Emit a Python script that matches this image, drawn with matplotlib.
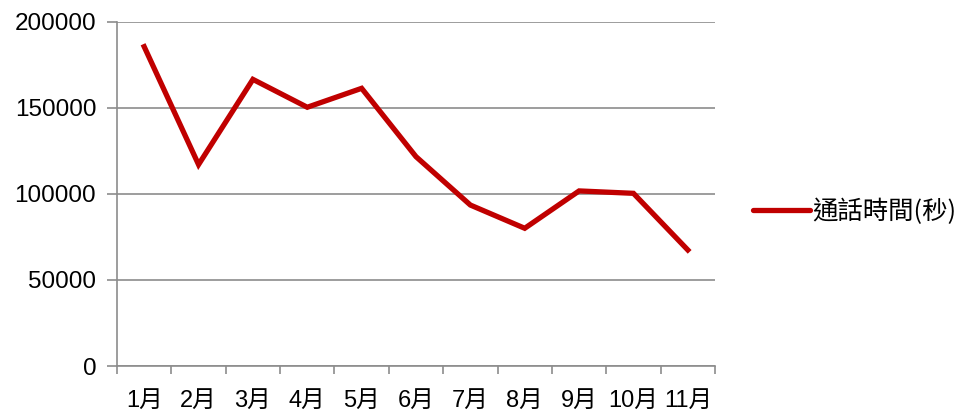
import matplotlib
matplotlib.use("Agg")
import matplotlib.pyplot as plt
from matplotlib.lines import Line2D

months = ["1月", "2月", "3月", "4月", "5月", "6月", "7月", "8月", "9月", "10月", "11月"]
call_seconds = [185500, 117000, 166500, 150300, 161300, 121600, 93500, 80000, 101700, 100300, 67400]
series_name = "通話時間(秒)"
y_ticks = [0, 50000, 100000, 150000, 200000]

plt.rcParams['font.family'] = ['Liberation Sans', 'Noto Sans CJK TC', 'DejaVu Sans']

fig = plt.figure(figsize=(9.65, 4.11), dpi=100)
ax = fig.add_axes([117/965, 1-366/411, (715-117)/965, (366-21.7)/411])

x = list(range(len(months)))
ax.plot(x, call_seconds, color="#c00000", lw=3.8, solid_joinstyle="miter", zorder=3,
        label=series_name)

ax.set_xlim(-0.5, len(months) - 0.5)
ax.set_ylim(0, 200000)
ax.set_yticks(y_ticks)
ax.set_yticklabels([str(v) for v in y_ticks], fontsize=17.5)
ax.yaxis.grid(True, color="#8c8c8c", lw=1.2)
ax.set_axisbelow(True)

ax.set_xticks([i - 0.5 for i in range(len(months) + 1)])
ax.set_xticklabels([])
ax.set_xticks(x, minor=True)
ax.set_xticklabels(months, minor=True, fontsize=17)
ax.tick_params(axis="x", which="major", length=6, width=1.2, color="#8c8c8c", direction="out")
ax.tick_params(axis="x", which="minor", length=0, pad=17)
ax.tick_params(axis="y", length=7, width=1.2, color="#8c8c8c", pad=8)

for s in ["top", "right"]:
    ax.spines[s].set_visible(False)
ax.spines["left"].set_color("#8c8c8c")
ax.spines["bottom"].set_color("#8c8c8c")
ax.spines["left"].set_linewidth(1.2)
ax.spines["bottom"].set_linewidth(1.2)

handle = Line2D([], [], color="#c00000", lw=3.8, solid_capstyle="round")
fig.legend([handle], [series_name], loc="center left", bbox_to_anchor=(0.780, 1-212/411),
           frameon=False, handlelength=2.25, handletextpad=0.1, borderpad=0, borderaxespad=0,
           prop={'family': ['Noto Sans CJK TC', 'DejaVu Sans'], 'size': 18.3})

fig.savefig("out.png", dpi=100)
